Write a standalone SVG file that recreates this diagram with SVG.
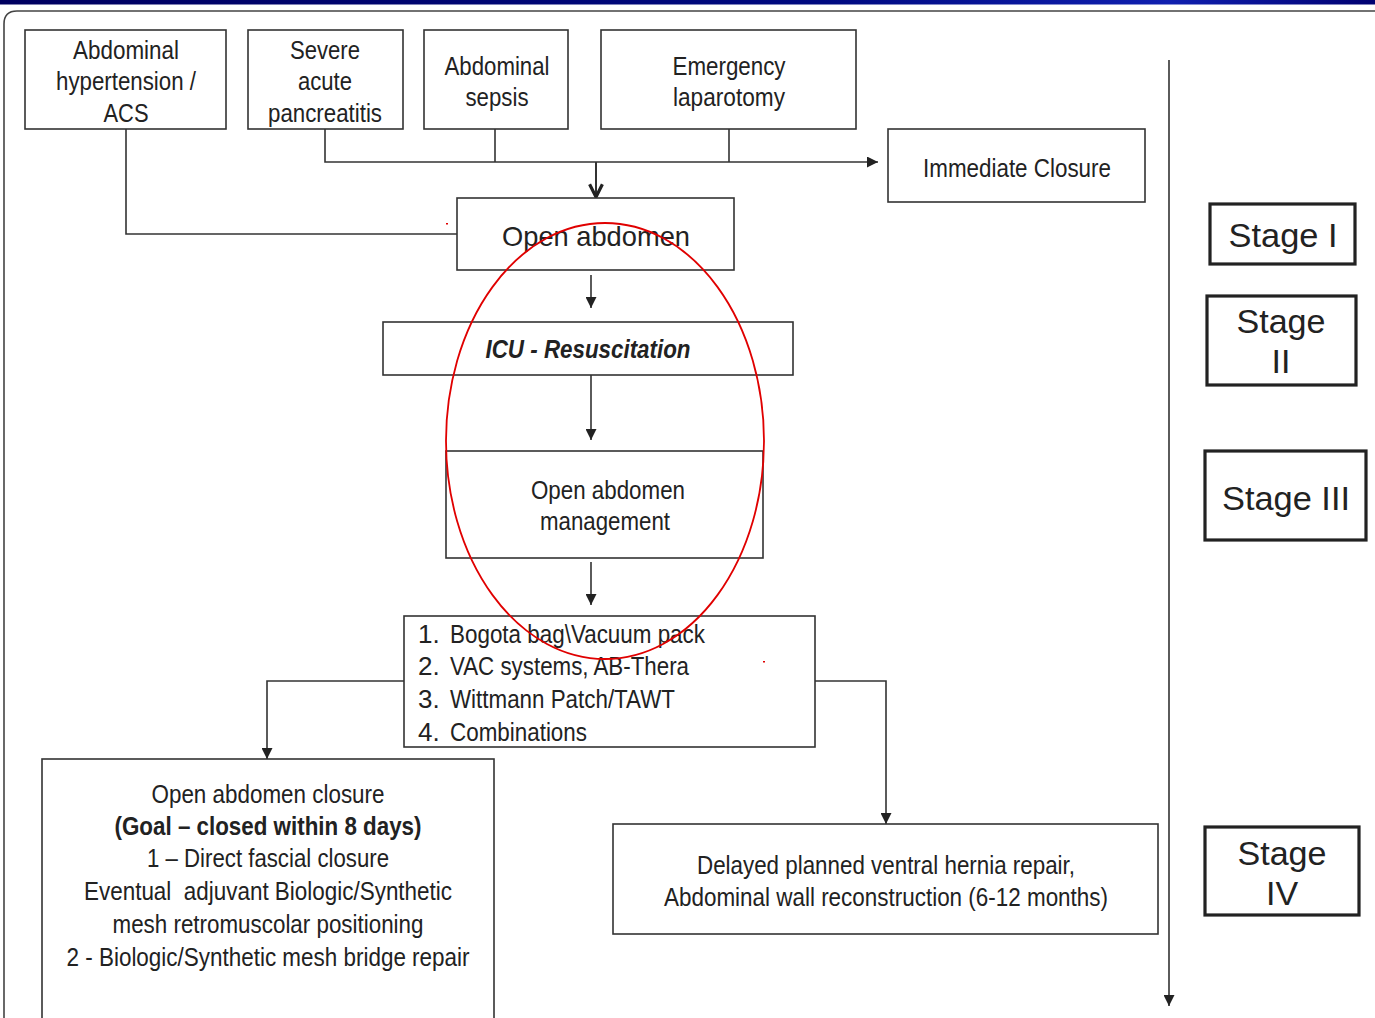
<svg xmlns="http://www.w3.org/2000/svg" width="1375" height="1018" viewBox="0 0 1375 1018">
<style>
.box{fill:#fff;stroke:#333;stroke-width:1.6}
.stage{fill:#fff;stroke:#222;stroke-width:3.2}
.t{font-family:"Liberation Sans Narrow","Liberation Sans",Arial,sans-serif;font-size:26px;fill:#222;text-anchor:middle}
.tl{text-anchor:start}
.st{font-family:"Liberation Sans",Arial,sans-serif;font-size:34px;fill:#222;text-anchor:middle}
.c{fill:none;stroke:#333;stroke-width:1.6}
</style>
<defs>
<linearGradient id="band" x1="0" x2="1" y1="0" y2="0">
<stop offset="0" stop-color="#000060"/>
<stop offset="0.6" stop-color="#000a80"/>
<stop offset="0.85" stop-color="#1020b0"/>
<stop offset="1" stop-color="#000070"/>
</linearGradient>
<marker id="ah" viewBox="0 0 10 10" refX="10" refY="5" markerWidth="11" markerHeight="11" markerUnits="userSpaceOnUse" orient="auto">
<path d="M0,0 L10,5 L0,10 z" fill="#222"/>
</marker>
<marker id="av" viewBox="0 0 10 10" refX="9" refY="5" markerWidth="16" markerHeight="16" markerUnits="userSpaceOnUse" orient="auto">
<path d="M1,1 L9,5 L1,9" fill="none" stroke="#222" stroke-width="2"/>
</marker>
</defs>
<rect x="0" y="0" width="1375" height="1018" fill="#fff"/>
<rect x="0" y="0" width="1375" height="4.5" fill="url(#band)"/>
<path d="M4,1018 V24 Q4,11 17,11 H1375" fill="none" stroke="#444" stroke-width="1.6"/>

<g id="connectors">
<path class="c" d="M126,129 V234 H457"/>
<path class="c" d="M325,129 V162 H878" marker-end="url(#ah)"/>
<path class="c" d="M495,129 V162"/>
<path class="c" d="M729,129 V162"/>
<path class="c" d="M596,162 V197" marker-end="url(#av)" style="stroke-width:2"/>
<path class="c" d="M591,275 V308" marker-end="url(#ah)"/>
<path class="c" d="M591,375 V440" marker-end="url(#ah)"/>
<path class="c" d="M591,562 V605" marker-end="url(#ah)"/>
<path class="c" d="M404,681 H267 V759" marker-end="url(#ah)"/>
<path class="c" d="M815,681 H886 V824" marker-end="url(#ah)"/>
<path class="c" d="M1169,60 V1006" marker-end="url(#ah)"/>
</g>

<g id="n-aht">
<rect class="box" x="25" y="30" width="201" height="99"/>
<text class="t" x="126" y="59" textLength="106" lengthAdjust="spacingAndGlyphs">Abdominal</text>
<text class="t" x="126" y="90" textLength="140" lengthAdjust="spacingAndGlyphs">hypertension /</text>
<text class="t" x="126" y="122" textLength="45" lengthAdjust="spacingAndGlyphs">ACS</text>
</g>
<g id="n-sap">
<rect class="box" x="248" y="30" width="155" height="99"/>
<text class="t" x="325" y="59" textLength="70" lengthAdjust="spacingAndGlyphs">Severe</text>
<text class="t" x="325" y="90" textLength="54" lengthAdjust="spacingAndGlyphs">acute</text>
<text class="t" x="325" y="122" textLength="114" lengthAdjust="spacingAndGlyphs">pancreatitis</text>
</g>
<g id="n-sepsis">
<rect class="box" x="424" y="30" width="144" height="99"/>
<text class="t" x="497" y="75" textLength="105" lengthAdjust="spacingAndGlyphs">Abdominal</text>
<text class="t" x="497" y="106" textLength="63" lengthAdjust="spacingAndGlyphs">sepsis</text>
</g>
<g id="n-lap">
<rect class="box" x="601" y="30" width="255" height="99"/>
<text class="t" x="729" y="75" textLength="113" lengthAdjust="spacingAndGlyphs">Emergency</text>
<text class="t" x="729" y="106" textLength="112" lengthAdjust="spacingAndGlyphs">laparotomy</text>
</g>
<g id="n-imm">
<rect class="box" x="888" y="129" width="257" height="73"/>
<text class="t" x="1017" y="177" textLength="188" lengthAdjust="spacingAndGlyphs">Immediate Closure</text>
</g>
<g id="n-oa">
<rect class="box" x="457" y="198" width="277" height="72"/>
<text class="t" x="596" y="246" style="font-size:28px" textLength="188" lengthAdjust="spacingAndGlyphs">Open abdomen</text>
</g>
<g id="n-icu">
<rect class="box" x="383" y="322" width="410" height="53"/>
<text class="t" x="588" y="358" style="font-weight:bold;font-style:italic" textLength="205" lengthAdjust="spacingAndGlyphs">ICU - Resuscitation</text>
</g>
<g id="n-oam">
<rect class="box" x="446" y="451" width="317" height="107"/>
<text class="t" x="608" y="499" textLength="154" lengthAdjust="spacingAndGlyphs">Open abdomen</text>
<text class="t" x="605" y="530" textLength="130" lengthAdjust="spacingAndGlyphs">management</text>
</g>
<g id="n-list">
<rect class="box" x="404" y="616" width="411" height="131"/>
<text class="t tl" x="418" y="643">1.</text>
<text class="t tl" x="450" y="643" textLength="255" lengthAdjust="spacingAndGlyphs">Bogota bag\Vacuum pack</text>
<text class="t tl" x="418" y="675">2.</text>
<text class="t tl" x="450" y="675" textLength="239" lengthAdjust="spacingAndGlyphs">VAC systems, AB-Thera</text>
<text class="t tl" x="418" y="708">3.</text>
<text class="t tl" x="450" y="708" textLength="225" lengthAdjust="spacingAndGlyphs">Wittmann Patch/TAWT</text>
<text class="t tl" x="418" y="741">4.</text>
<text class="t tl" x="450" y="741" textLength="137" lengthAdjust="spacingAndGlyphs">Combinations</text>
</g>
<g id="n-closure">
<rect class="box" x="42" y="759" width="452" height="270"/>
<text class="t" x="268" y="803" textLength="233" lengthAdjust="spacingAndGlyphs">Open abdomen closure</text>
<text class="t" x="268" y="835" style="font-weight:bold" textLength="307" lengthAdjust="spacingAndGlyphs">(Goal – closed within 8 days)</text>
<text class="t" x="268" y="867" textLength="242" lengthAdjust="spacingAndGlyphs">1 – Direct fascial closure</text>
<text class="t" x="268" y="900" textLength="368" lengthAdjust="spacingAndGlyphs" xml:space="preserve">Eventual  adjuvant Biologic/Synthetic</text>
<text class="t" x="268" y="933" textLength="311" lengthAdjust="spacingAndGlyphs">mesh retromuscolar positioning</text>
<text class="t" x="268" y="966" textLength="403" lengthAdjust="spacingAndGlyphs">2 - Biologic/Synthetic mesh bridge repair</text>
</g>
<g id="n-delayed">
<rect class="box" x="613" y="824" width="545" height="110"/>
<text class="t" x="886" y="874" textLength="378" lengthAdjust="spacingAndGlyphs">Delayed planned ventral hernia repair,</text>
<text class="t" x="886" y="906" textLength="444" lengthAdjust="spacingAndGlyphs">Abdominal wall reconstruction (6-12 months)</text>
</g>

<g id="s1">
<rect class="stage" x="1210" y="204" width="145" height="60"/>
<text class="st" x="1283" y="247" textLength="109" lengthAdjust="spacingAndGlyphs">Stage I</text>
</g>
<g id="s2">
<rect class="stage" x="1207" y="296" width="149" height="89"/>
<text class="st" x="1281" y="333" textLength="89" lengthAdjust="spacingAndGlyphs">Stage</text>
<text class="st" x="1281" y="373">II</text>
</g>
<g id="s3">
<rect class="stage" x="1205" y="451" width="161" height="89"/>
<text class="st" x="1286" y="510" textLength="128" lengthAdjust="spacingAndGlyphs">Stage III</text>
</g>
<g id="s4">
<rect class="stage" x="1205" y="827" width="154" height="88"/>
<text class="st" x="1282" y="865" textLength="89" lengthAdjust="spacingAndGlyphs">Stage</text>
<text class="st" x="1282" y="905">IV</text>
</g>

<g id="highlight">
<ellipse cx="605" cy="441" rx="159" ry="218" fill="none" stroke="#e00000" stroke-width="1.8"/>
<rect x="446" y="223" width="2" height="1.5" fill="#e00000"/>
<rect x="763" y="661" width="2" height="1.5" fill="#e00000"/>
</g>
</svg>
